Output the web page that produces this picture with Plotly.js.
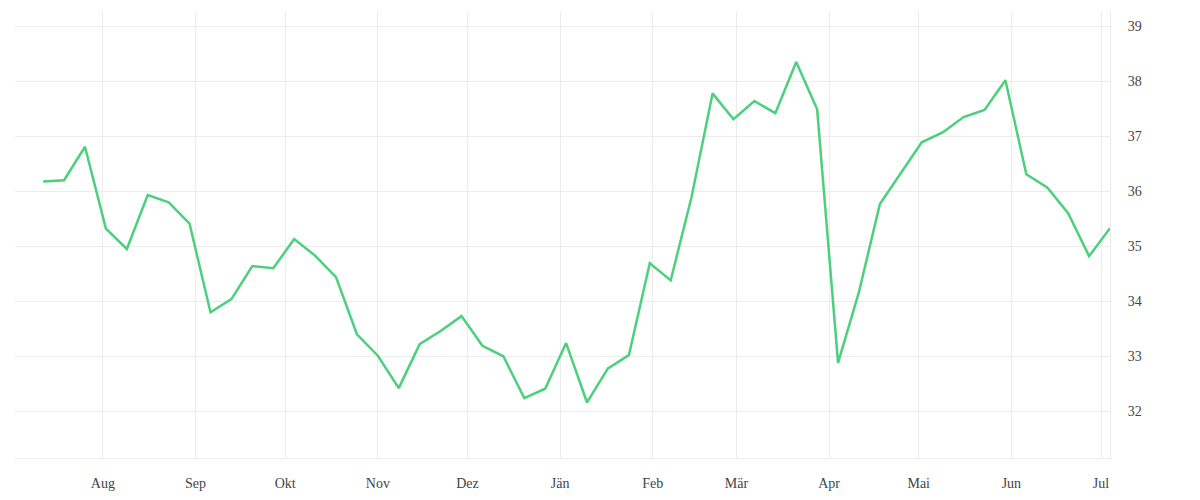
<!DOCTYPE html>
<html>
<head>
<meta charset="utf-8">
<script src="https://cdn.plot.ly/plotly-3.0.1.min.js"></script>
<style>
  html, body { margin: 0; padding: 0; background: #fff; }
  #plot { width: 1200px; height: 500px; }
</style>
</head>
<body>
<div id="plot"></div>
<script>
// weekly values, first week starts 2024-07-12
let startDate = '2024-07-12';
let values = [
  36.18, 36.20, 36.81, 35.32, 34.95, 35.93, 35.80, 35.41, 33.80, 34.04,
  34.64, 34.60, 35.13, 34.83, 34.44, 33.40, 33.01, 32.42, 33.22, 33.46,
  33.73, 33.19, 33.00, 32.24, 32.41, 33.24, 32.16, 32.78, 33.02, 34.69,
  34.38, 35.90, 37.78, 37.31, 37.64, 37.42, 38.35, 37.49, 32.88, 34.17,
  35.77, 36.34, 36.89, 37.07, 37.35, 37.48, 38.02, 36.31, 36.07, 35.60,
  34.82, 35.33
];
let monthTicks = ['2024-08-01','2024-09-01','2024-10-01','2024-11-01','2024-12-01','2025-01-01',
                  '2025-02-01','2025-03-01','2025-04-01','2025-05-01','2025-06-01','2025-07-01'];
let monthLabels = ['Aug','Sep','Okt','Nov','Dez','Jän','Feb','Mär','Apr','Mai','Jun','Jul'];
let yTicks = [32, 33, 34, 35, 36, 37, 38, 39];

// build the weekly dates
let dates = [];
let d0 = new Date(startDate + 'T00:00:00Z');
for (let i = 0; i < values.length; i++) {
  let d = new Date(d0.getTime() + i * 7 * 86400000);
  dates.push(d.toISOString().slice(0, 10));
}

let trace = {
  x: dates,
  y: values,
  type: 'scatter',
  mode: 'lines',
  line: { color: '#4cd07d', width: 2.5 },
  hoverinfo: 'x+y'
};

let layout = {
  width: 1200,
  height: 500,
  margin: { l: 15, r: 90, t: 12, b: 42 },
  paper_bgcolor: '#fff',
  plot_bgcolor: '#fff',
  showlegend: false,
  font: { family: 'Liberation Serif, DejaVu Serif, serif', size: 14, color: '#444' },
  xaxis: {
    type: 'date',
    range: ['2024-07-02 14:00', '2025-07-04'],
    tickvals: monthTicks,
    ticktext: monthLabels,
    showgrid: true,
    gridcolor: '#ececec',
    gridwidth: 1,
    showline: true,
    linecolor: '#ececec',
    linewidth: 1,
    zeroline: false,
    ticks: 'outside',
    ticklen: 12,
    tickcolor: 'rgba(0,0,0,0)',
    tickfont: { size: 14, color: '#444' }
  },
  yaxis: {
    side: 'right',
    range: [31.15, 39.26],
    tickvals: yTicks,
    showgrid: true,
    gridcolor: '#ececec',
    gridwidth: 1,
    showline: true,
    linecolor: '#ececec',
    linewidth: 1,
    zeroline: false,
    ticks: 'outside',
    ticklen: 14,
    tickcolor: 'rgba(0,0,0,0)',
    tickfont: { size: 14, color: '#444' }
  }
};

Plotly.newPlot('plot', [trace], layout, { displayModeBar: false, staticPlot: true });
</script>
</body>
</html>
